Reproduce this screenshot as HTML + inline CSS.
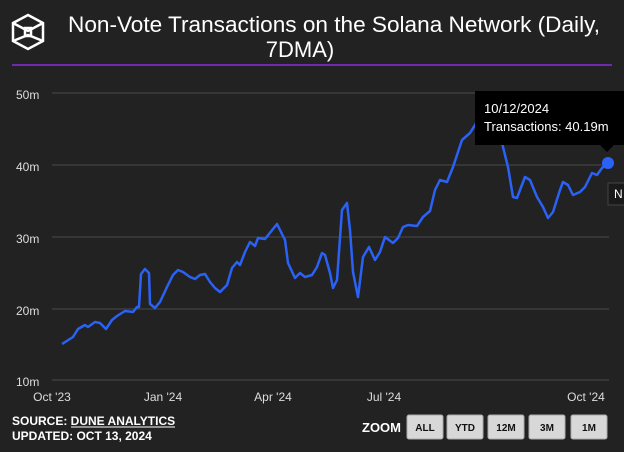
<!DOCTYPE html>
<html><head><style>
body{margin:0;width:624px;height:447px;background:#222;overflow:hidden;font-family:"Liberation Sans",sans-serif;}
</style></head><body>
<svg width="624" height="447" xmlns="http://www.w3.org/2000/svg" font-family="Liberation Sans, sans-serif">
<rect width="624" height="447" fill="#222"/>
<g fill="none" stroke="#fff" stroke-width="2.5">
<polygon points="28,15 43,23 43,41 28,49 13,41 13,23"/>
<polyline points="13,23 28,31 43,23"/>
<polyline points="13,41 28,35 43,41"/>
<rect x="25" y="28" width="6" height="8"/>
</g>
<text x="68" y="32" fill="#fff" font-size="22" textLength="532" lengthAdjust="spacingAndGlyphs">Non-Vote Transactions on the Solana Network (Daily,</text>
<text x="300" y="57" fill="#fff" font-size="22" text-anchor="middle">7DMA)</text>
<line x1="12" y1="65" x2="612" y2="65" stroke="#8a2be2" stroke-width="1.5"/>
<g stroke="#4a4a4a" stroke-width="1">
<line x1="52" y1="93" x2="609" y2="93"/><line x1="52" y1="165" x2="609" y2="165"/><line x1="52" y1="237" x2="609" y2="237"/><line x1="52" y1="309" x2="609" y2="309"/><line x1="52" y1="380" x2="609" y2="380"/>
</g>
<g fill="#ddd" font-size="12">
<text x="16" y="99">50m</text><text x="16" y="171">40m</text><text x="16" y="243">30m</text><text x="16" y="315">20m</text><text x="16" y="386">10m</text>
</g>
<g fill="#ddd" font-size="12" text-anchor="middle">
<text x="52" y="401">Oct '23</text><text x="163" y="401">Jan '24</text><text x="273" y="401">Apr '24</text><text x="384" y="401">Jul '24</text><text x="586" y="401">Oct '24</text>
</g>
<polyline fill="none" stroke="#2a62f5" stroke-width="2.5" stroke-linejoin="round" points="62,344 73,337 78,329 85,325 88,327 95,322 100,323 106,329 112,320 117,316 125,311 133,312 137,307 139,307 141,274 145,269 149,273 150,304 155,308 160,302 167,287 173,275 178,270 183,272 190,277 195,279 200,275 205,274 210,282 215,288 220,292 227,285 232,268 237,262 240,265 245,252 250,242 255,246 258,238 265,239 277,224 285,240 288,263 295,278 300,273 305,277 312,275 317,267 322,253 325,255 330,273 333,288 337,280 342,210 347,203 350,230 353,272 358,297 363,257 369,247 375,260 380,252 385,237 393,243 398,238 403,227 408,225 417,226 423,217 430,211 435,190 440,180 447,182 453,167 462,140 470,133 475,125 485,110 495,115 503,147 508,167 513,197 517,198 520,190 525,177 530,180 537,197 543,207 548,218 553,212 560,190 563,182 568,185 573,195 580,192 585,187 592,173 597,175 602,168 608,163"/>
<circle cx="608" cy="163" r="6" fill="#2a62f5"/>
<rect x="475" y="91" width="150" height="54" fill="#000"/>
<polygon points="600,145 614,145 607,152" fill="#000"/>
<text x="484" y="113" fill="#fff" font-size="13">10/12/2024</text>
<text x="484" y="131" fill="#fff" font-size="13">Transactions: 40.19m</text>
<rect x="608" y="183" width="20" height="22" fill="#1a1a1a" stroke="#444"/>
<text x="614" y="198" fill="#fff" font-size="12">N</text>
<text x="12" y="425" fill="#fff" font-size="12" font-weight="bold">SOURCE: DUNE ANALYTICS</text>
<line x1="71" y1="427" x2="175" y2="427" stroke="#fff" stroke-width="1"/>
<text x="12" y="440" fill="#fff" font-size="12" font-weight="bold">UPDATED: OCT 13, 2024</text>
<text x="362" y="432" fill="#fff" font-size="13" font-weight="bold">ZOOM</text>
<g fill="#d8d8d8" stroke="#aaa">
<rect x="407" y="415" width="36" height="24" rx="2"/><rect x="447" y="415" width="36" height="24" rx="2"/><rect x="488" y="415" width="36" height="24" rx="2"/><rect x="529" y="415" width="36" height="24" rx="2"/><rect x="571" y="415" width="36" height="24" rx="2"/>
</g>
<g fill="#111" font-size="10" font-weight="bold" text-anchor="middle">
<text x="425" y="431">ALL</text><text x="465" y="431">YTD</text><text x="506" y="431">12M</text><text x="547" y="431">3M</text><text x="589" y="431">1M</text>
</g>
</svg>
</body></html>
